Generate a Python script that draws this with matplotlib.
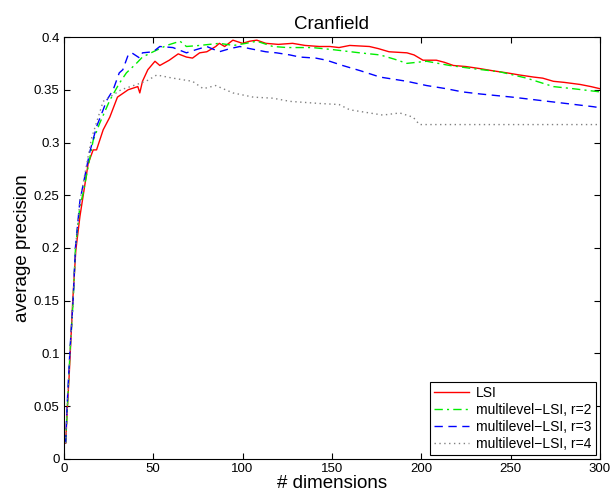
import matplotlib
matplotlib.use("Agg")
import matplotlib.pyplot as plt

plt.rcParams['font.family'] = ['Liberation Sans', 'DejaVu Sans']

# LSI (red, solid)
lsi_d = [1, 2, 3, 5, 6.7, 9, 13.6, 16.4, 18.3, 22, 25.7, 30, 36, 41.4, 42.5, 44, 47, 51, 53.7,
         59, 64, 68.6, 72, 76, 80, 85, 87, 90, 94.6, 100, 104, 108, 113, 120, 128, 135, 143, 149,
         154, 160, 171, 176, 182, 192, 196, 201, 208.5, 213, 218, 225, 233, 240, 248, 255, 263,
         268, 274, 280, 289, 295, 300]
lsi_v = [0.015, 0.05, 0.08, 0.151, 0.198, 0.23, 0.28, 0.293, 0.293, 0.312, 0.324, 0.343, 0.35,
         0.353, 0.347, 0.358, 0.369, 0.377, 0.373, 0.378, 0.384, 0.381, 0.38, 0.385, 0.386, 0.391,
         0.394, 0.391, 0.397, 0.394, 0.396, 0.397, 0.394, 0.393, 0.394, 0.392, 0.391, 0.391,
         0.39, 0.392, 0.391, 0.389, 0.386, 0.385, 0.383, 0.378, 0.378, 0.376, 0.373, 0.372, 0.37,
         0.368, 0.366, 0.364, 0.362, 0.361, 0.358, 0.357, 0.355, 0.353, 0.351]

# multilevel-LSI r=2 (green, dash-dot)
r2_d = [1, 2, 3.4, 5.2, 6.5, 9, 10.8, 16.4, 20, 25.7, 31, 35, 40.6, 44, 50, 57.5, 65, 68.6, 76,
        87, 95, 102, 108, 117, 125, 139, 150.7, 165.6, 177, 185, 192, 203, 216, 229, 244, 259,
        274, 285, 300]
r2_v = [0.015, 0.05, 0.1, 0.15, 0.2, 0.24, 0.252, 0.302, 0.318, 0.34, 0.356, 0.366, 0.375, 0.381,
        0.386, 0.392, 0.396, 0.391, 0.392, 0.394, 0.392, 0.394, 0.396, 0.391, 0.39, 0.39, 0.388,
        0.385, 0.383, 0.379, 0.375, 0.377, 0.373, 0.37, 0.367, 0.361, 0.353, 0.351, 0.348]

# multilevel-LSI r=3 (blue, dashed)
r3_d = [1, 1.8, 3.4, 5.2, 6.5, 9, 14.5, 18.3, 22, 24, 27.6, 31, 33, 36, 38, 42.5, 44, 50, 53.7,
        61, 68.6, 74, 80, 87, 93, 98.5, 104, 113, 119, 126.5, 132, 141, 147, 156, 166, 177, 192,
        203, 214, 223, 233, 251, 266, 281, 296, 300]
r3_v = [0.015, 0.05, 0.103, 0.151, 0.201, 0.245, 0.291, 0.315, 0.331, 0.34, 0.35, 0.366, 0.369,
        0.383, 0.385, 0.38, 0.385, 0.386, 0.391, 0.39, 0.385, 0.388, 0.391, 0.386, 0.389, 0.391,
        0.389, 0.386, 0.385, 0.383, 0.381, 0.38, 0.378, 0.373, 0.368, 0.362, 0.358, 0.354, 0.351,
        0.348, 0.346, 0.343, 0.34, 0.337, 0.334, 0.333]

# multilevel-LSI r=4 (gray, dotted)
r4_d = [1, 2, 3.4, 5.2, 6.5, 9, 15.5, 22, 32, 42.5, 47, 52, 61, 72, 78, 85, 94.6, 106, 117,
        126.5, 143, 154, 160, 178.5, 188, 195.5, 199, 220, 250, 300]
r4_v = [0.015, 0.05, 0.1, 0.15, 0.2, 0.245, 0.304, 0.339, 0.35, 0.356, 0.359, 0.364, 0.361, 0.358,
        0.351, 0.354, 0.347, 0.343, 0.342, 0.339, 0.337, 0.336, 0.331, 0.326, 0.328, 0.324, 0.317,
        0.317, 0.317, 0.317]

fig = plt.figure(figsize=(6.14, 4.96), dpi=100)
ax = fig.add_axes([0.104, 0.0746, 0.873, 0.8508])

# matlab-ish dash patterns
ax.plot(lsi_d, lsi_v, color='#ff0000', lw=1.0, ls='-', label='LSI')
ax.plot(r2_d, r2_v, color='#00ee00', lw=1.0, ls=(0, (6, 3, 1.5, 3)), label='multilevel\u2212LSI, r=2')
ax.plot(r3_d, r3_v, color='#0000ff', lw=1.0, ls=(0, (6, 4)), label='multilevel\u2212LSI, r=3')
ax.plot(r4_d, r4_v, color='#808080', lw=1.0, ls=(0, (1, 2.5)), label='multilevel\u2212LSI, r=4')

ax.set_xlim(0, 300)
ax.set_ylim(0, 0.4)
ax.set_xticks([0, 50, 100, 150, 200, 250, 300])
ax.set_yticks([0, 0.05, 0.1, 0.15, 0.2, 0.25, 0.3, 0.35, 0.4])
ax.set_yticklabels(['0', '0.05', '0.1', '0.15', '0.2', '0.25', '0.3', '0.35', '0.4'])
ax.tick_params(direction='in', top=True, right=True, labelsize=9.5, length=4, pad=3)
for s in ax.spines.values():
    s.set_linewidth(0.8)

ax.set_title('Cranfield', fontsize=13.5, pad=6)
ax.set_xlabel('# dimensions', fontsize=13.5, labelpad=0)
ax.set_ylabel('average precision', fontsize=13.5, labelpad=2)

leg = ax.legend(loc='lower right', fontsize=10, fancybox=False, framealpha=1,
                edgecolor='black', borderaxespad=0.3, handlelength=2.5,
                handletextpad=0.5, borderpad=0.3, labelspacing=0.2)
leg.get_frame().set_linewidth(0.8)

plt.savefig('out.png', dpi=100)
